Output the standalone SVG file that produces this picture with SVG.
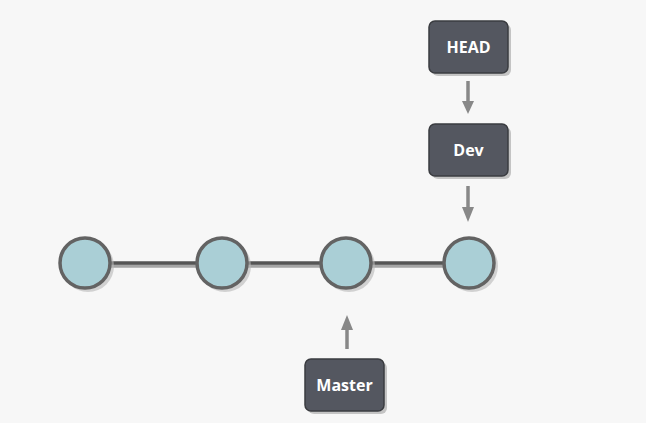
<svg xmlns="http://www.w3.org/2000/svg" width="646" height="423" viewBox="0 0 646 423">
<defs>
<style>
.box{fill:#545760;stroke:#3a3c40;stroke-width:1.5}
.lbl{font-family:"Open Sans","Liberation Sans",sans-serif;font-weight:bold;font-size:16px;fill:#ffffff;text-anchor:middle}
.c{fill:#aacfd6;stroke:#636363;stroke-width:3.5}
.shadow{fill:#b8b8b8;opacity:0.6}
.link{stroke:#555555;stroke-width:3.5}
.arr{stroke:#888888;stroke-width:3.5;fill:none}
</style>
</defs>
<rect width="646" height="423" fill="#f7f7f7"/>
<g id="connectors">
<line class="link" x1="85" y1="264" x2="469" y2="264" stroke="#bbbbbb" transform="translate(2,2)" opacity="0.5"/>
<line class="link" x1="85" y1="263" x2="469" y2="263"/>
<line class="arr" x1="468" y1="81" x2="468" y2="106"/>
<path d="M462,101 L468,114 L474,101 Z" fill="#888888"/>
<line class="arr" x1="468" y1="186" x2="468" y2="211"/>
<path d="M462,207 L468,222 L474,207 Z" fill="#888888"/>
<line class="arr" x1="347" y1="349" x2="347" y2="325"/>
<path d="M341,330 L347,315 L353,330 Z" fill="#888888"/>
</g>
<g id="c1"><circle class="shadow" cx="88" cy="266" r="26"/><circle class="c" cx="85" cy="263" r="25"/></g>
<g id="c2"><circle class="shadow" cx="225" cy="266" r="26"/><circle class="c" cx="222" cy="263" r="25"/></g>
<g id="c3"><circle class="shadow" cx="349" cy="266" r="26"/><circle class="c" cx="346" cy="263" r="25"/></g>
<g id="c4"><circle class="shadow" cx="472" cy="266" r="26"/><circle class="c" cx="469" cy="263" r="25"/></g>
<g id="head">
<rect x="432" y="24" width="79" height="52" rx="6" fill="#c4c4c4"/>
<rect class="box" x="429" y="21" width="79" height="52" rx="6"/>
<text class="lbl" x="468.5" y="53">HEAD</text>
</g>
<g id="dev">
<rect x="432" y="127" width="79" height="52" rx="6" fill="#c4c4c4"/>
<rect class="box" x="429" y="124" width="79" height="52" rx="6"/>
<text class="lbl" x="468.5" y="156">Dev</text>
</g>
<g id="master">
<rect x="308" y="362" width="79" height="52" rx="6" fill="#c4c4c4"/>
<rect class="box" x="305" y="359" width="79" height="52" rx="6"/>
<text class="lbl" x="344.5" y="391">Master</text>
</g>
</svg>
